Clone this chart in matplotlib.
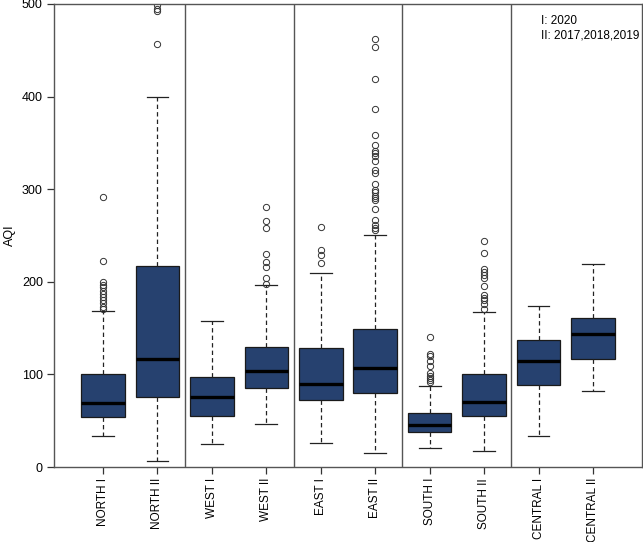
import matplotlib
matplotlib.use("Agg")
import matplotlib.pyplot as plt

plt.rcParams['font.family'] = ['Liberation Sans', 'DejaVu Sans']

labels = ["NORTH I", "NORTH II", "WEST I", "WEST II", "EAST I", "EAST II",
          "SOUTH I", "SOUTH II", "CENTRAL I", "CENTRAL II"]
q1 = [54, 76, 55, 85, 72, 80, 37.5, 55, 89, 117]
med = [69, 116.5, 76, 104, 90, 107, 45.5, 70.5, 115, 144]
q3 = [100, 217, 97, 130, 128, 149, 58, 100, 137, 161]
whislo = [33, 6, 24.5, 46, 25.5, 15, 20, 17, 33, 82]
whishi = [169, 400, 158, 197, 209, 251, 88, 167, 174, 219]
fliers = [
    [292, 222, 200, 197, 194, 190, 187, 184, 180, 177, 173, 171],
    [457, 492, 495, 499],
    [],
    [281, 266, 258, 230, 221, 216, 204, 198],
    [259, 234, 229, 220],
    [462, 454, 419, 387, 358, 348, 341, 339, 336, 330, 321, 318, 306, 299,
     297, 293, 291, 288, 279, 267, 261, 258, 256],
    [140, 122, 120, 114, 109, 101, 98, 96, 94, 92],
    [244, 231, 214, 211, 207, 204, 196, 186, 183, 180, 176, 171],
    [],
    [],
]
legend_lines = ["I: 2020", "II: 2017,2018,2019"]
dividers = [2.5, 4.5, 6.5, 8.5]

stats = []
for i in range(len(labels)):
    stats.append(dict(label=labels[i], q1=q1[i], med=med[i], q3=q3[i],
                      whislo=whislo[i], whishi=whishi[i], fliers=fliers[i]))

fig = plt.figure(figsize=(6.43, 5.42), dpi=100)
ax = fig.add_axes([54/643, 1-467/542, (642-54)/643, (467-4)/542])

fill = "#26416F"
ax.bxp(stats, positions=list(range(1, 11)), widths=0.8, patch_artist=True,
       boxprops=dict(facecolor=fill, edgecolor="#1a1a1a", linewidth=0.9),
       medianprops=dict(color="black", linewidth=2.4),
       whiskerprops=dict(color="#222222", linewidth=0.9, linestyle=(0, (3.5, 2.5))),
       capprops=dict(color="#222222", linewidth=0.9),
       capwidths=0.4,
       flierprops=dict(marker="o", markersize=4.5, markerfacecolor="none",
                       markeredgecolor="#333333", markeredgewidth=0.7))

for d in dividers:
    ax.axvline(d, color="#555555", linewidth=1.0)

ax.set_xlim(0.1, 10.9)
ax.set_ylim(0, 500)
ax.set_yticks([0, 100, 200, 300, 400, 500])
ax.set_xticks(range(1, 11))
ax.set_xticklabels(labels, rotation=90, fontsize=8.5, va="top", ha="center")
ax.tick_params(axis="y", labelsize=9, length=5, width=0.9, color="#333333", pad=3)
ax.tick_params(axis="x", length=5, width=0.9, color="#333333", pad=3)
for s in ax.spines.values():
    s.set_color("#555555")
    s.set_linewidth(1.0)
ax.set_ylabel("AQI", fontsize=9)
ax.yaxis.set_label_coords(-0.064, 0.5)

ax.text(9.05, 481.5, legend_lines[0], fontsize=8.5, va="center", ha="left")
ax.text(9.05, 465.5, legend_lines[1], fontsize=8.5, va="center", ha="left")

fig.savefig("out.png", dpi=100)
